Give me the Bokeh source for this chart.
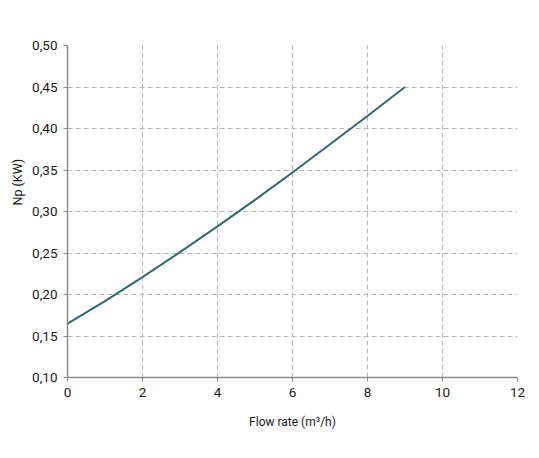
from bokeh.plotting import figure
from bokeh.models import FixedTicker, Range1d, Title
from bokeh.embed import file_html
from bokeh.resources import INLINE

# Data
flow = [0, 1, 2, 3, 4, 5, 6, 7, 8, 9]
power = [0.165, 0.192, 0.221, 0.251, 0.282, 0.314, 0.347, 0.381, 0.415, 0.450]

x_ticks = [0, 2, 4, 6, 8, 10, 12]
y_ticks = [0.10, 0.15, 0.20, 0.25, 0.30, 0.35, 0.40, 0.45, 0.50]
y_tick_labels = ["0,10", "0,15", "0,20", "0,25", "0,30", "0,35", "0,40", "0,45", "0,50"]

p = figure(width=530, height=440, output_backend="svg", toolbar_location=None,
           x_range=Range1d(0, 12), y_range=Range1d(0.10, 0.50),
           min_border_left=67, min_border_right=13, min_border_top=45, min_border_bottom=63)
p.outline_line_color = None
p.background_fill_color = "white"
p.border_fill_color = "white"

p.line(flow, power, line_color="#2f6b6d", line_width=2)

FONT = "Roboto"
p.xaxis.ticker = FixedTicker(ticks=x_ticks)
p.yaxis.ticker = FixedTicker(ticks=y_ticks)
p.yaxis.major_label_overrides = {t: l for t, l in zip(y_ticks, y_tick_labels)}
p.xaxis.major_label_overrides = {t: str(t) for t in x_ticks}

for ax in (p.xaxis, p.yaxis):
    ax.axis_line_color = "#8a8a8a"
    ax.axis_line_width = 1.5
    ax.major_tick_line_color = "#8a8a8a"
    ax.major_tick_out = 4
    ax.major_tick_in = 0
    ax.minor_tick_line_color = None
    ax.major_label_text_font = FONT
    ax.major_label_text_font_size = "13.5px"
    ax.major_label_text_color = "#1a1a1a"
    ax.axis_label_text_font = FONT
    ax.axis_label_text_font_size = "12px"
    ax.axis_label_text_font_style = "normal"
    ax.axis_label_text_color = "#1a1a1a"

p.xaxis.axis_label = "Flow rate (m³/h)"
p.xaxis.major_label_standoff = 6
p.yaxis.major_label_standoff = 6
p.xaxis.axis_label_standoff = 15

# y-axis title, placed above the vertical centre as in the reference
p.add_layout(Title(text="Np (KW)", align="left", offset=172, standoff=10,
                   text_font=FONT, text_font_size="12.5px", text_font_style="normal",
                   text_color="#1a1a1a"), "left")

for g in (p.xgrid, p.ygrid):
    g.grid_line_color = "#b5b5b5"
    g.grid_line_dash = "5 3"
    g.grid_line_width = 1

open("out.html", "w").write(file_html(p, INLINE))
